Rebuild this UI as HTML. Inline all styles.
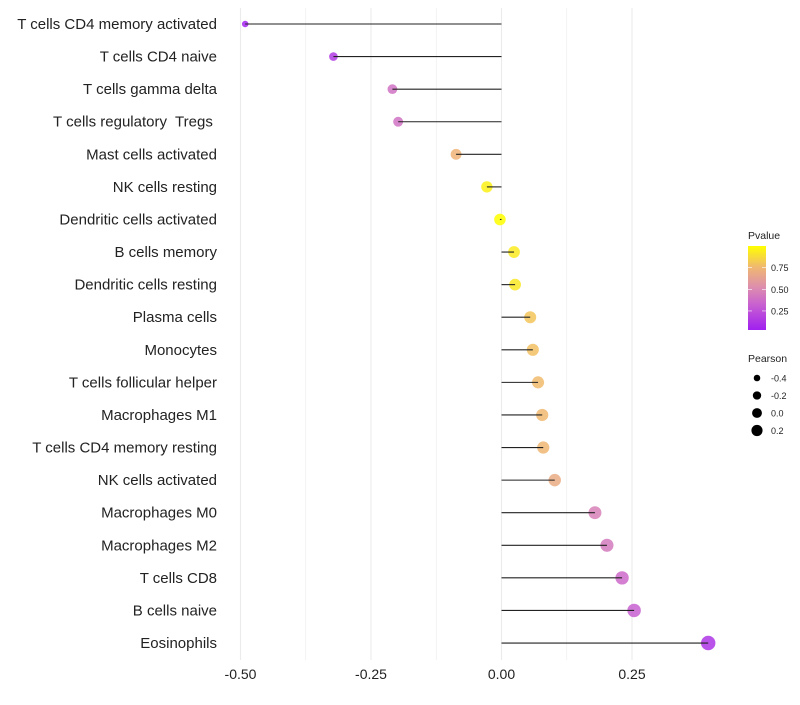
<!DOCTYPE html>
<html><head><meta charset="utf-8"><style>
body{margin:0;background:#fff;font-family:"Liberation Sans",sans-serif}
</style></head><body>
<svg id="c" width="800" height="700" xmlns="http://www.w3.org/2000/svg">
<defs><linearGradient id="pg" x1="0" y1="1" x2="0" y2="0">
<stop offset="0" stop-color="#a020f0"/><stop offset="0.3" stop-color="#c860d0"/><stop offset="0.5" stop-color="#dc8cb0"/><stop offset="0.75" stop-color="#f0b870"/><stop offset="1" stop-color="#ffff00"/>
</linearGradient></defs>
</svg>
<script>
const categories=["T cells CD4 memory activated","T cells CD4 naive","T cells gamma delta","T cells regulatory  Tregs ","Mast cells activated","NK cells resting","Dendritic cells activated","B cells memory","Dendritic cells resting","Plasma cells","Monocytes","T cells follicular helper","Macrophages M1","T cells CD4 memory resting","NK cells activated","Macrophages M0","Macrophages M2","T cells CD8","B cells naive","Eosinophils"];
const pearson=[-0.491,-0.322,-0.209,-0.198,-0.087,-0.028,-0.003,0.024,0.026,0.055,0.060,0.070,0.078,0.080,0.102,0.179,0.202,0.231,0.254,0.396];
const pvalue=[0.02,0.12,0.38,0.38,0.72,0.95,1.0,0.93,0.92,0.8,0.78,0.76,0.75,0.74,0.68,0.45,0.42,0.34,0.3,0.1];
const xTicks=[-0.5,-0.25,0,0.25];
const xTickLabels=["-0.50","-0.25","0.00","0.25"];
const sizeLegend=[-0.4,-0.2,0.0,0.2];
const colorTicks=[0.25,0.5,0.75];
const NS="http://www.w3.org/2000/svg";
const svg=document.getElementById('c');
const X=v=>501.5+v*522;
const Y=i=>24+i*32.58;
const R=v=>Math.sqrt(Math.max(33.6+46.8*v,3.5));
function col(p){const s=[[0,[160,32,240]],[0.3,[200,96,208]],[0.5,[220,140,176]],[0.75,[240,184,112]],[1,[255,255,0]]];
for(let k=1;k<s.length;k++){if(p<=s[k][0]){const a=s[k-1],b=s[k],t=(p-a[0])/(b[0]-a[0]);return 'rgb('+a[1].map((c,j)=>Math.round(c+(b[1][j]-c)*t)).join(',')+')';}}return 'rgb(255,255,0)';}
function mk(t,a,p){const e=document.createElementNS(NS,t);for(const k in a)e.setAttribute(k,a[k]);(p||svg).appendChild(e);return e;}
for(let k=0;k<7;k++){const v=-0.5+k*0.125;const g=mk('line',{x1:X(v),x2:X(v),y1:8,y2:660,stroke:'#ebebeb','stroke-width':k%2?0.6:1.1});

}
xTicks.forEach((v,i)=>{const t=mk('text',{x:X(v),y:679,'text-anchor':'middle','font-size':14,fill:'#222'});t.textContent=xTickLabels[i];

});
categories.forEach((c,i)=>{
const t=mk('text',{x:217,y:Y(i)+5,'text-anchor':'end','font-size':15,fill:'#222'});t.setAttribute('style','white-space:pre');t.textContent=c;


const d=mk('circle',{cx:X(pearson[i]),cy:Y(i),r:R(pearson[i]),fill:col(pvalue[i]),'fill-opacity':0.85});


const l=mk('line',{x1:X(0),x2:X(pearson[i]),y1:Y(i),y2:Y(i),stroke:'#222','stroke-width':1.1});


});
let t=mk('text',{x:748,y:239,'font-size':10.5,fill:'#222'});t.textContent='Pvalue';


const cb=mk('rect',{x:748,y:246,width:18,height:84,fill:'url(#pg)'});


const CY=p=>330-(p-0.03)/0.97*84;
colorTicks.forEach(p=>{mk('line',{x1:748,x2:752,y1:CY(p),y2:CY(p),stroke:'#fff','stroke-width':0.6});mk('line',{x1:762,x2:766,y1:CY(p),y2:CY(p),stroke:'#fff','stroke-width':0.6});
const l=mk('text',{x:771,y:CY(p)+3.5,'font-size':9,fill:'#222'});l.textContent=p.toFixed(2);

});
t=mk('text',{x:748,y:362,'font-size':10.5,fill:'#222'});t.textContent='Pearson';


sizeLegend.forEach((v,i)=>{const y=378+i*17.5;
const c=mk('circle',{cx:757,cy:y,r:R(v)*0.85,fill:'#000'});


const l=mk('text',{x:771,y:y+3.5,'font-size':9,fill:'#222'});l.textContent=v.toFixed(1);

});
</script>
</body></html>
